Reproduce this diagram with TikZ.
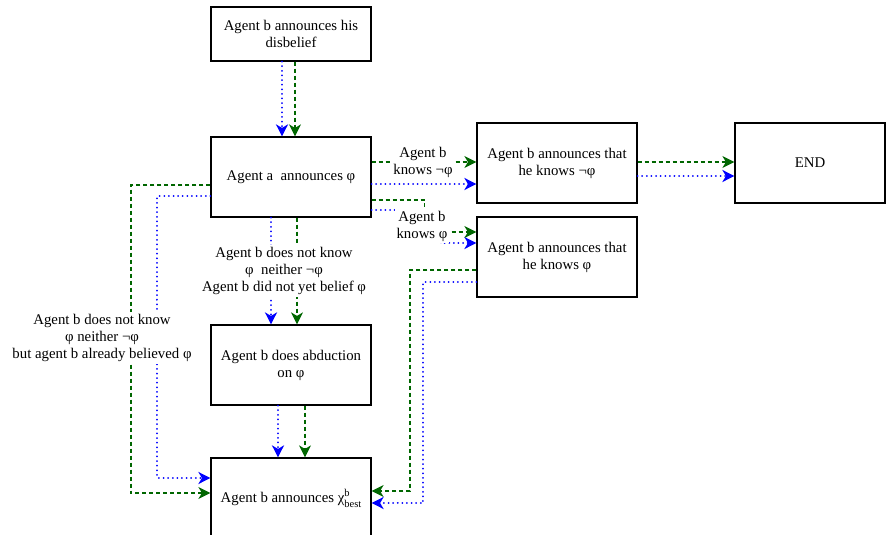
\documentclass[tikz,border=0pt]{standalone}
\usepackage{fontspec}
\setmainfont{Liberation Serif}
\usetikzlibrary{arrows.meta,calc}
\definecolor{flowgreen}{HTML}{006600}
\definecolor{flowblue}{HTML}{0000FF}
\newcommand{\smalltag}[1]{{\fontsize{10.5}{12}\selectfont #1}}

\begin{document}
\begin{tikzpicture}[x=1pt,y=-1pt,
  font=\fontsize{14.8}{17}\selectfont,
  box/.style={draw=black, line width=1.2pt, minimum width=160pt, minimum height=80pt,
              align=center, inner sep=0pt},
  tip/.style={-{Stealth[length=12pt,width=12pt,inset=3.5pt]}},
  gline/.style={draw=flowgreen, line width=1.5pt, dash pattern=on 4pt off 3pt, tip},
  bline/.style={draw=flowblue, line width=2pt, line cap=round,
                dash pattern=on 0.01pt off 4.6pt, tip},
  lbl/.style={fill=white, align=center, inner sep=2pt}
]
\useasboundingbox (0,0) rectangle (886,535);

% states of the dialogue
\node[box, minimum height=54pt] (disb) at (291,34) {Agent b announces his\\disbelief};
\node[box] (annA) at (291,177) {Agent a\ \ announces φ};
\node[box] (knowsNot) at (557,163) {Agent b announces that\\he knows ¬φ};
\node[box, minimum width=150pt] (endN) at (810,163) {END};
\node[box] (knows) at (557,257) {Agent b announces that\\he knows φ};
\node[box] (abd) at (291,365) {Agent b does abduction\\on φ};
\node[box] (best) at (291,498) {Agent b announces χ\rlap{\raisebox{0.9ex}{\smalltag{b}}}\raisebox{-0.7ex}{\smalltag{best}}};

% disbelief -> announcement of a
\draw[bline] ([xshift=-9pt]disb.south) -- ([xshift=-9pt]annA.north);
\draw[gline] ([xshift=4pt]disb.south) -- ([xshift=4pt]annA.north);

% a -> b knows not phi
\draw[bline] ($(annA.east)+(0,7)$) -- ($(knowsNot.west)+(0,21)$);
\draw[gline] ($(annA.east)+(0,-15)$) -- ($(knowsNot.west)+(0,-1)$);
\node[lbl] (lKnowsNot) at (423,162) {Agent b\\knows ¬φ};

% b knows not phi -> end
\draw[gline] ($(knowsNot.east)+(0,-1)$) -- ($(endN.west)+(0,-1)$);
\draw[bline] ($(knowsNot.east)+(0,13)$) -- ($(endN.west)+(0,13)$);

% a -> b knows phi
\draw[bline] ($(annA.east)+(0,33)$) -- ++(69,0) |- ($(knows.west)+(0,-14)$);
\draw[gline] ($(annA.east)+(0,23)$) -- ++(53,0) |- ($(knows.west)+(0,-25)$);
\node[lbl] (lKnows) at (422,226) {Agent b\\knows φ};

% a -> abduction
\draw[bline] ([xshift=-20pt]annA.south) -- ([xshift=-20pt]abd.north);
\draw[gline] ([xshift=6pt]annA.south) -- ([xshift=6pt]abd.north);
\node[lbl] (lAbd) at (284,271) {Agent b does not know\\φ\ \ neither ¬φ\\Agent b did not yet belief φ};

% abduction -> best explanation
\draw[bline] ([xshift=-13pt]abd.south) -- ([xshift=-13pt]best.north);
\draw[gline] ([xshift=14pt]abd.south) -- ([xshift=14pt]best.north);

% a -> best explanation, around the left side
\draw[bline] ($(annA.west)+(0,19)$) -- ++(-53,0) |- ($(best.west)+(0,-20)$);
\draw[gline] ($(annA.west)+(0,8)$) -- ++(-79.5,0) |- ($(best.west)+(0,-5)$);
\node[lbl] (lBelieved) at (102,338) {Agent b does not know\\φ neither ¬φ\\but agent b already believed φ};

% b knows phi -> best explanation
\draw[gline] ($(knows.west)+(0,13)$) -- ++(-66.5,0) |- ($(best.east)+(0,-7)$);
\draw[bline] ($(knows.west)+(0,25)$) -- ++(-53,0) |- ($(best.east)+(0,5)$);
\end{tikzpicture}
\end{document}
